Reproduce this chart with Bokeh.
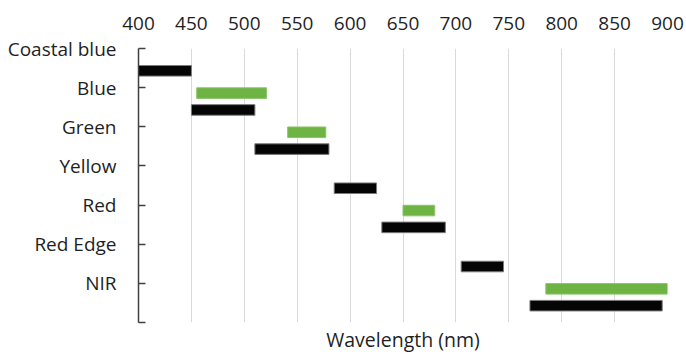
from bokeh.plotting import figure
from bokeh.models import Range1d, FixedTicker, LinearAxis, ColumnDataSource
from bokeh.embed import file_html
from bokeh.resources import INLINE

bands = ["Coastal blue", "Blue", "Green", "Yellow", "Red", "Red Edge", "NIR"]
x_ticks = [400, 450, 500, 550, 600, 650, 700, 750, 800, 850, 900]

# black sensor bands (index of band row, start nm, end nm)
black_idx = [0, 1, 2, 3, 4, 5, 6]
black_start = [400, 450, 510, 585, 630, 705, 770]
black_end = [450, 510, 580, 625, 690, 745, 895]

# green sensor bands
green_idx = [1, 2, 4, 6]
green_start = [455, 541, 650, 785]
green_end = [521, 577, 680, 900]

FONT = "Open Sans"
TXT = "#1f1f1f"
FS = "19px"

p = figure(width=686, height=356, output_backend="svg", toolbar_location=None,
           x_range=Range1d(400, 900), y_range=Range1d(7, 0),
           x_axis_location="above",
           min_border_left=138, min_border_right=19, min_border_top=48, min_border_bottom=34)
p.outline_line_color = None
p.background_fill_color = "white"
p.border_fill_color = "white"

black_src = ColumnDataSource(dict(y=[i + 0.57 for i in black_idx], left=black_start, right=black_end))
green_src = ColumnDataSource(dict(y=[i + 0.14 for i in green_idx], left=green_start, right=green_end))

p.hbar(y="y", left="left", right="right", height=0.27, source=green_src,
       fill_color="#6db444", line_color="#8cc46a", line_width=1)
p.hbar(y="y", left="left", right="right", height=0.27, source=black_src,
       fill_color="#050505", line_color="#7a7a7a", line_width=1)

# top x axis
xa = p.xaxis[0]
xa.ticker = FixedTicker(ticks=x_ticks)
xa.axis_line_color = None
xa.major_tick_line_color = None
xa.minor_tick_line_color = None
xa.major_tick_out = 0
xa.major_label_standoff = 19
xa.major_label_text_font = FONT
xa.major_label_text_font_size = FS
xa.major_label_text_color = TXT

# y axis
ya = p.yaxis[0]
ya.ticker = FixedTicker(ticks=list(range(8)))
ya.major_label_overrides = {i: (bands[i] if i < len(bands) else "") for i in range(8)}
ya.axis_line_color = "#404040"
ya.axis_line_width = 1.5
ya.major_tick_line_color = "#404040"
ya.major_tick_line_width = 1.5
ya.major_tick_in = 7
ya.major_tick_out = 0
ya.minor_tick_line_color = None
ya.major_label_standoff = 22
ya.major_label_text_font = FONT
ya.major_label_text_font_size = FS
ya.major_label_text_color = TXT

# bottom axis for the title only
ba = LinearAxis(axis_label="Wavelength (nm)")
ba.ticker = FixedTicker(ticks=[])
ba.axis_line_color = None
ba.major_tick_line_color = None
ba.minor_tick_line_color = None
ba.major_label_text_font_size = "0px"
ba.axis_label_standoff = 3
ba.axis_label_text_font = FONT
ba.axis_label_text_font_size = "19.5px"
ba.axis_label_text_font_style = "normal"
ba.axis_label_text_color = TXT
p.add_layout(ba, "below")

p.xgrid.ticker = FixedTicker(ticks=x_ticks[1:])
p.xgrid.grid_line_color = "#d9d9d9"
p.xgrid.grid_line_width = 1
p.ygrid.grid_line_color = None

open("out.html", "w").write(file_html(p, INLINE))
